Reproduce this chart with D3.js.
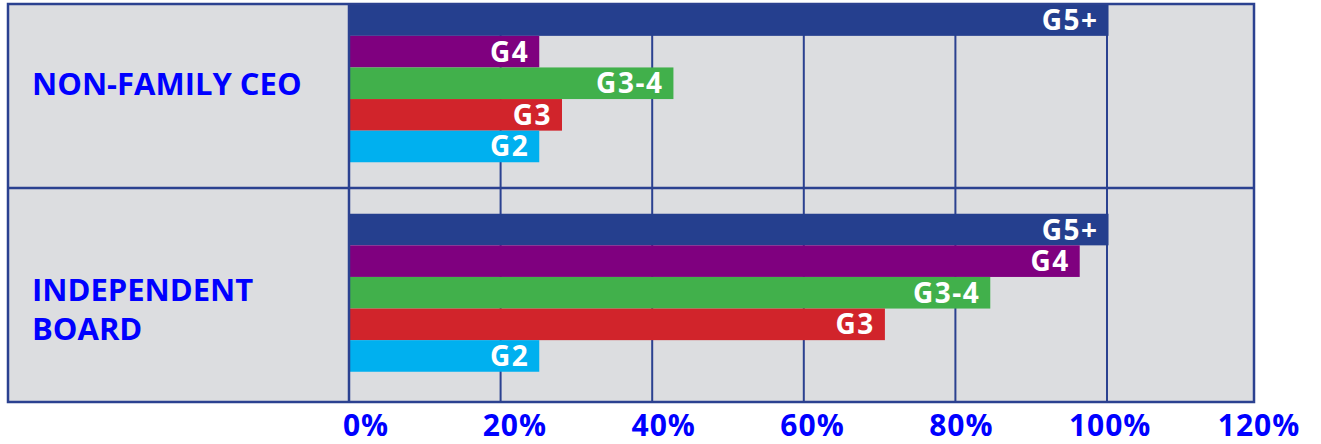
<!DOCTYPE html>
<html>
<head>
<meta charset="utf-8">
<script src="https://cdn.jsdelivr.net/npm/d3@7"></script>
<style>
  body { margin: 0; background: #ffffff; }
  svg text { font-family: "Open Sans", "Noto Sans", sans-serif; font-weight: 700; }
</style>
</head>
<body>
<div class="chart-container"></div>
<script>
// Data
const categories = ['NON-FAMILY CEO', 'INDEPENDENT BOARD'];
const categoryLines = [['NON-FAMILY CEO'], ['INDEPENDENT', 'BOARD']];
const series = ['G5+', 'G4', 'G3-4', 'G3', 'G2'];
const nonFamilyCeo = [100.2, 25.1, 42.8, 28.1, 25.1];
const independentBoard = [100.2, 96.4, 84.6, 70.7, 25.1];
const tickValues = [0, 20, 40, 60, 80, 100, 120];
const tickLabels = ['0%', '20%', '40%', '60%', '80%', '100%', '120%'];

const colors = ['#253f8e', '#7f007f', '#41b04b', '#d1242b', '#00b0ef'];
const frameColor = '#2b4190';
const labelBlue = '#0000ff';

const width = 1321;
const height = 444;
const frame = { left: 8, top: 4, right: 1254, bottom: 402 };
const plotLeft = 349;

const rows = categories.map((c, i) => ({
    category: c,
    lines: categoryLines[i],
    values: [nonFamilyCeo, independentBoard][i]
}));

// Scales
const x = d3.scaleLinear().domain([0, 100]).range([plotLeft, 1107]);
const xLabel = d3.scaleLinear().domain([0, 120]).range([366, 1259]);
const y = d3.scaleBand().domain(categories).range([-21.5, 397.5]);
const groupHeight = 158;
const y1 = d3.scaleBand().domain(series).range([0, groupHeight]);
const color = d3.scaleOrdinal().domain(series).range(colors);

const svg = d3.select('.chart-container')
    .append('svg')
    .attr('width', width)
    .attr('height', height);

// Background
svg.append('rect')
    .attr('x', frame.left)
    .attr('y', frame.top)
    .attr('width', frame.right - frame.left)
    .attr('height', frame.bottom - frame.top)
    .attr('fill', '#dcdde0');

// Gridlines (behind bars)
svg.append('g')
    .selectAll('line')
    .data(tickValues.filter(v => v > 0 && v <= 100))
    .enter()
    .append('line')
    .attr('x1', d => x(d))
    .attr('x2', d => x(d))
    .attr('y1', frame.top)
    .attr('y2', frame.bottom)
    .attr('stroke', frameColor)
    .attr('stroke-width', 2);

// Bars
const groups = svg.selectAll('.row')
    .data(rows)
    .enter()
    .append('g')
    .attr('class', 'row')
    .attr('transform', d => `translate(0, ${y(d.category) + y.bandwidth() / 2 - groupHeight / 2})`);

groups.selectAll('rect')
    .data(d => d.values.map((v, i) => ({ key: series[i], value: v })))
    .enter()
    .append('rect')
    .attr('x', x(0))
    .attr('y', d => y1(d.key))
    .attr('width', d => x(d.value) - x(0))
    .attr('height', y1.bandwidth())
    .attr('fill', d => color(d.key));

groups.selectAll('.bar-label')
    .data(d => d.values.map((v, i) => ({ key: series[i], value: v })))
    .enter()
    .append('text')
    .attr('class', 'bar-label')
    .attr('x', d => x(d.value) - 10)
    .attr('y', d => y1(d.key) + y1.bandwidth() / 2 + 10)
    .attr('text-anchor', 'end')
    .attr('fill', '#ffffff')
    .attr('font-size', 28)
    .attr('letter-spacing', 1.5)
    .text(d => d.key);

// Frame and dividers
svg.append('rect')
    .attr('x', frame.left)
    .attr('y', frame.top)
    .attr('width', frame.right - frame.left)
    .attr('height', frame.bottom - frame.top)
    .attr('fill', 'none')
    .attr('stroke', frameColor)
    .attr('stroke-width', 2.5);

svg.append('line')
    .attr('x1', x(0)).attr('x2', x(0))
    .attr('y1', frame.top).attr('y2', frame.bottom)
    .attr('stroke', frameColor)
    .attr('stroke-width', 2.5);

svg.append('line')
    .attr('x1', frame.left).attr('x2', frame.right)
    .attr('y1', y(categories[1])).attr('y2', y(categories[1]))
    .attr('stroke', frameColor)
    .attr('stroke-width', 2.5);

// Category labels
svg.selectAll('.cat-label')
    .data(rows)
    .enter()
    .append('text')
    .attr('class', 'cat-label')
    .attr('fill', labelBlue)
    .attr('font-size', 31)
    .each(function(d) {
        const cy = y(d.category) + y.bandwidth() / 2;
        const first = d.lines.length > 1 ? cy + 8.5 : cy + 11.5;
        d3.select(this).selectAll('tspan')
            .data(d.lines)
            .enter()
            .append('tspan')
            .attr('x', 32)
            .attr('y', (l, i) => first + i * 39)
            .text(l => l);
    });

// Tick labels
svg.selectAll('.tick-label')
    .data(tickValues)
    .enter()
    .append('text')
    .attr('class', 'tick-label')
    .attr('x', d => xLabel(d))
    .attr('y', 436)
    .attr('text-anchor', 'middle')
    .attr('fill', labelBlue)
    .attr('font-size', 30)
    .attr('letter-spacing', 1)
    .text((d, i) => tickLabels[i]);
</script>
</body>
</html>
